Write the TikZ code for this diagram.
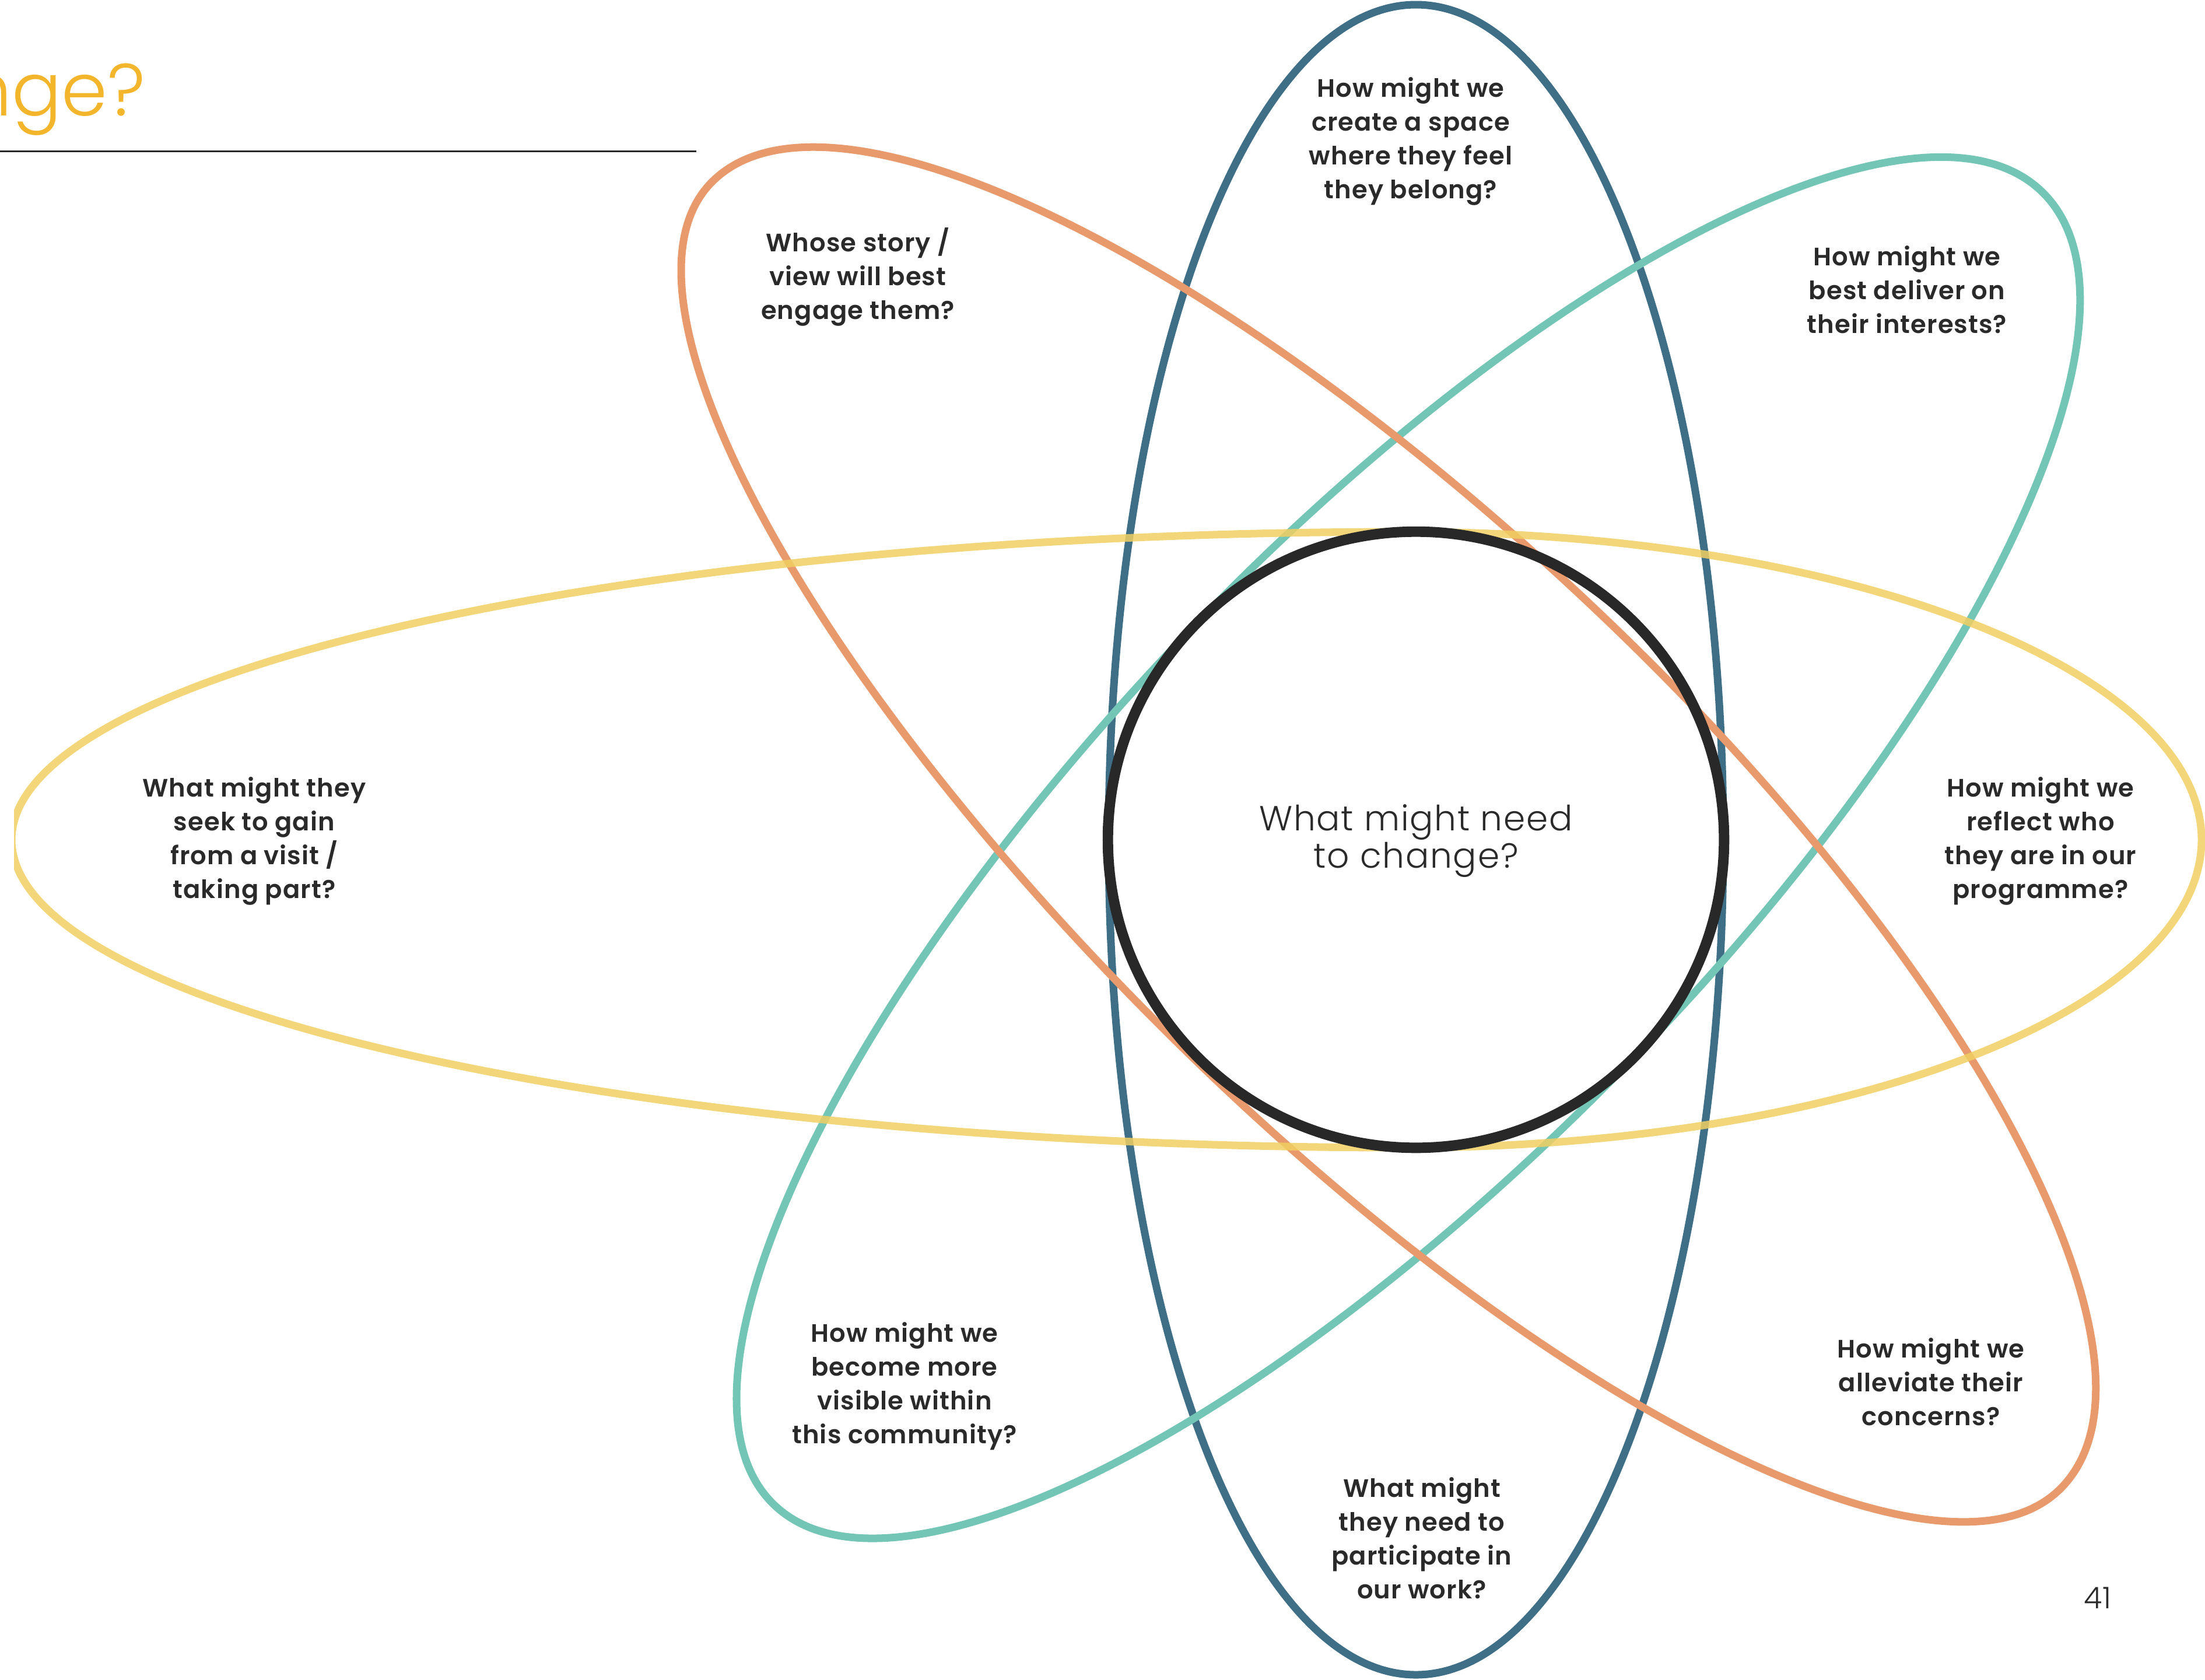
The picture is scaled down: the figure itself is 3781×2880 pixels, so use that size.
\documentclass[tikz,border=0pt]{standalone}
\usepackage{fontspec}
\setmainfont{Poppins}
\newfontfamily\lblfont{Poppins SemiBold}[LetterSpace=2.5]
\newfontfamily\thinfont{Poppins Light}[LetterSpace=3]
\newfontfamily\titlefont{Poppins Light}
\definecolor{cblue}{HTML}{3F6E87}
\definecolor{corange}{HTML}{E89A6C}
\definecolor{cteal}{HTML}{73C5B5}
\definecolor{cyellow}{HTML}{F0CF62}
\definecolor{cring}{HTML}{282828}
\definecolor{txt}{HTML}{2A2A2A}
\definecolor{gold}{HTML}{F3B52C}
\begin{document}
\begin{tikzpicture}[x=0.01cm,y=-0.01cm,
  orbit/.style={line width=3.7pt},
  lbl/.style={font=\lblfont\fontsize{12.3}{16.5}\selectfont, text=txt, align=center, inner sep=0pt},
  ctr/.style={font=\thinfont\fontsize{17}{18}\selectfont, text=txt, align=center, inner sep=0pt}]
\useasboundingbox (0,0) rectangle (3781,2880);
% title fragment and rule
\node[font=\titlefont\fontsize{36}{40}\selectfont, text=gold, anchor=base east, inner sep=0pt] (title) at (250,198) {nge?};
\coordinate (ruleA) at (0,259);
\coordinate (ruleB) at (1194,259);
\draw[line width=0.85pt, draw=cring] (ruleA) -- (ruleB);
\begin{scope}
\clip (24,0) rectangle (3781,2880);
% blue vertical ellipse
\draw[orbit, cblue] (2428,1440) ellipse [x radius=527, y radius=1432];
% teal ellipse (upper right / lower left)
\begin{scope}[shift={(2428,1440)}, rotate=46]
\draw[orbit, cteal] (1545,0) arc[start angle=0,end angle=90,x radius=1545,y radius=528]
  arc[start angle=90,end angle=270,x radius=1585,y radius=528]
  arc[start angle=270,end angle=360,x radius=1545,y radius=528] -- cycle;
\end{scope}
% orange ellipse (upper left / lower right)
\begin{scope}[shift={(2406,1460)}, rotate=-44]
\draw[orbit, corange] (1570,0) arc[start angle=0,end angle=90,x radius=1570,y radius=505]
  arc[start angle=90,end angle=180,x radius=1650,y radius=505]
  arc[start angle=180,end angle=270,x radius=1650,y radius=528]
  arc[start angle=270,end angle=360,x radius=1570,y radius=528] -- cycle;
\end{scope}
% yellow horizontal egg
\begin{scope}[shift={(2410,1440)}]
\draw[orbit, cyellow, draw opacity=0.85] (1365,0) arc[start angle=0,end angle=90,x radius=1365,y radius=528]
  arc[start angle=90,end angle=270,x radius=2390,y radius=528]
  arc[start angle=270,end angle=360,x radius=1365,y radius=528] -- cycle;
\end{scope}
\end{scope}
% central circle
\node[circle, draw=cring, line width=5.1pt, minimum size=10.56cm, inner sep=0pt] (core) at (2428,1440) {};
\node[ctr] (q) at (2428,1442) {What might need\\to change?};
% labels
\node[lbl] (l1) at (2419,242) {How might we\\create a space\\where they feel\\they belong?};
\node[lbl] (l2) at (1471,475) {Whose story /\\view will best\\engage them?};
\node[lbl] (l3) at (3270,497) {How might we\\best deliver on\\their interests?};
\node[lbl] (l4) at (436,1442) {What might they\\seek to gain\\from a visit /\\taking part?};
\node[lbl] (l5) at (3499,1442) {How might we\\reflect who\\they are in our\\programme?};
\node[lbl] (l6) at (1551,2377) {How might we\\become more\\visible within\\this community?};
\node[lbl] (l7) at (3311,2370) {How might we\\alleviate their\\concerns?};
\node[lbl] (l8) at (2438,2638) {What might\\they need to\\participate in\\our work?};
\node[font=\thinfont\fontsize{14.5}{16}\selectfont, text=txt, anchor=base, inner sep=0pt] (page) at (3597,2758) {41};
\end{tikzpicture}
\end{document}
